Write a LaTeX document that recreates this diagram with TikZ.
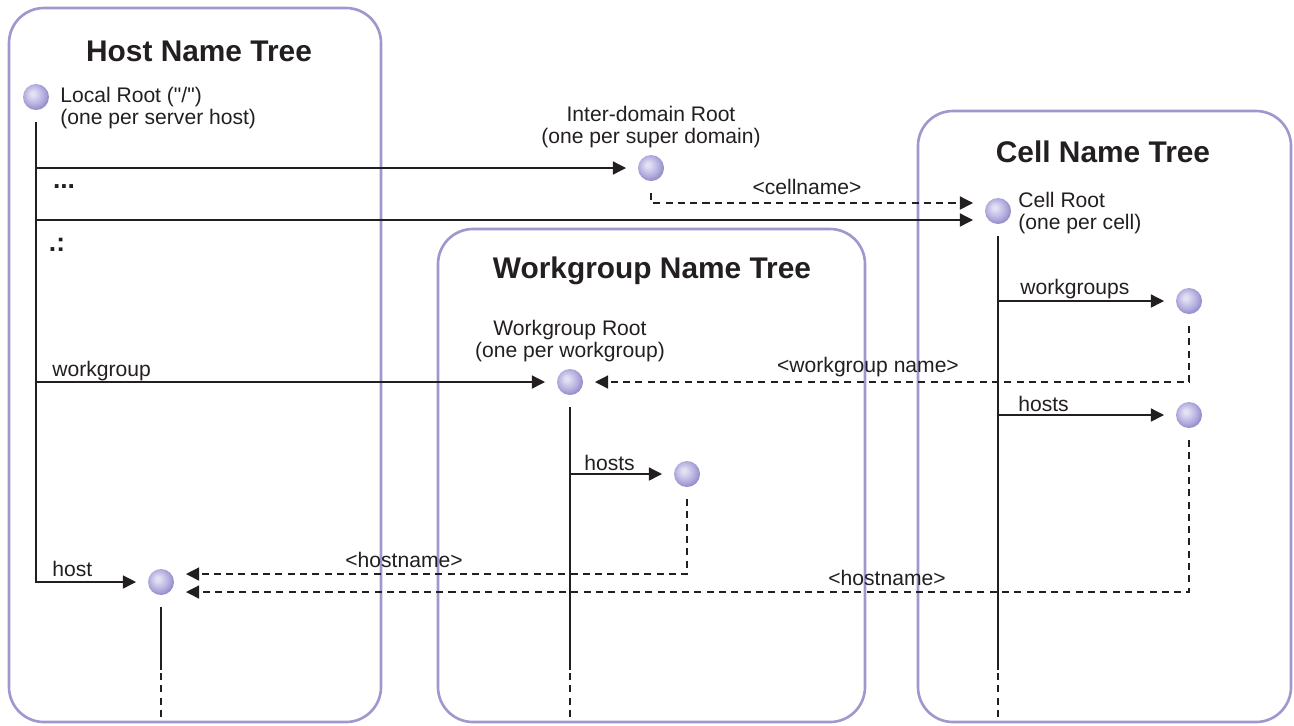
\documentclass[tikz,border=0pt]{standalone}
\usepackage{fontspec}
\setmainfont{Liberation Sans}[Ligatures=TeXOff]
\usepackage{tikz}
\usetikzlibrary{arrows.meta}
\definecolor{treeframe}{RGB}{158,152,206}
\definecolor{ballhi}{RGB}{226,224,243}
\definecolor{ballmid}{RGB}{176,171,221}
\definecolor{ballrim}{RGB}{132,126,190}
\definecolor{ink}{RGB}{35,31,32}
\pgfdeclareradialshading{lavball}{\pgfqpoint{-7bp}{7bp}}{color(0bp)=(ballhi);color(4bp)=(ballhi);color(20bp)=(ballmid);color(31bp)=(ballrim);color(50bp)=(ballrim)}

\begin{document}
\begin{tikzpicture}[x=0.02cm,y=-0.02cm,>={Triangle[length=7.5pt,width=7.5pt]},
  frame/.style={draw=treeframe,line width=1.5pt,rounded corners=0.7cm},
  title/.style={font=\fontsize{17}{20}\selectfont\bfseries,text=ink},
  ball/.style={circle,shading=lavball,minimum size=0.52cm,inner sep=0pt,outer sep=0.24cm},
  txt/.style={font=\fontsize{12}{12.8}\selectfont,inner sep=0pt,text=ink},
  conn/.style={draw=ink,line width=0.75pt},
  dashline/.style={conn,dash pattern=on 4pt off 3pt}]
\useasboundingbox (0,0) rectangle (1294,725);
% the three trees
\draw[frame](9,8)rectangle(381,722);
\draw[frame](438,229)rectangle(865,722);
\draw[frame](918,111)rectangle(1291,722);
\node[title](hosttitle)at(199,51){Host Name Tree};
\node[title](wgtitle)at(652,271){Workgroup Name Tree};
\node[title](celltitle)at(1103,152){Cell Name Tree};
% roots and entries
\node[ball](lr)at(36,97){};
\node[ball](ir)at(651,168){};
\node[ball](cr)at(998,211){};
\node[ball](cwg)at(1189,301){};
\node[ball](chs)at(1189,415){};
\node[ball](wr)at(570,382){};
\node[ball](whs)at(687,474){};
\node[ball](hs)at(161,582){};
\node[txt,anchor=west,align=left](lrtxt)at(60,108){Local Root ("/")\\(one per server host)};
\node[txt,align=center](irtxt)at(651,127){Inter-domain Root\\(one per super domain)};
\node[txt,anchor=west,align=left](crtxt)at(1018,213){Cell Root\\(one per cell)};
\node[txt,align=center](wrtxt)at(570,341){Workgroup Root\\(one per workgroup)};
\coordinate(crhigh)at([yshift=0.16cm]cr.west);
\coordinate(crlow)at([yshift=-0.18cm]cr.west);
\coordinate(hshigh)at([yshift=0.16cm]hs.east);
\coordinate(hslow)at([yshift=-0.2cm]hs.east);
\coordinate(trunkend)at(0,670);
\coordinate(trunkfoot)at(0,718);
% host name tree
\draw[conn,->](lr.south)|-(hs.west);
\draw[conn,->](lr.south|-ir)--(ir.west);
\draw[conn,->](lr.south|-crlow)--(crlow);
\draw[conn,->](lr.south|-wr)--(wr.west);
\node[txt,font=\fontsize{15}{15}\selectfont\bfseries](dots)at(64,187){...};
\node[txt,font=\fontsize{15}{15}\selectfont\bfseries](vdots)at(57,245){.:};
\node[txt,anchor=west](wglbl)at(52,371){workgroup};
\node[txt,anchor=west](hostlbl)at(52,569){host};
% junctions
\draw[dashline,->](ir.south)|-(crhigh);
\node[txt](celllbl)at(807,187){<cellname>};
\draw[conn,->](cr.south|-cwg)--(cwg.west);
\draw[conn,->](cr.south|-chs)--(chs.west);
\node[txt,anchor=west](cwglbl)at(1020,289){workgroups};
\node[txt,anchor=west](chslbl)at(1018,404){hosts};
\draw[dashline,->](cwg.south)|-(wr.east);
\node[txt](wgnamelbl)at(868,367){<workgroup name>};
\draw[dashline,->](chs.south)|-(hslow);
\node[txt](cellhnlbl)at(887,578){<hostname>};
\draw[conn,->](wr.south|-whs)--(whs.west);
\node[txt,anchor=west](whslbl)at(584,463){hosts};
\draw[dashline,->](whs.south)|-(hshigh);
\node[txt](wghnlbl)at(404,560){<hostname>};
% trunks running on
\foreach \t in {cr,wr,hs}{
  \draw[conn](\t.south)--(\t.south|-trunkend);
  \draw[dashline]([yshift=-0.06cm]\t.south|-trunkend)--(\t.south|-trunkfoot);
}
\end{tikzpicture}
\end{document}
